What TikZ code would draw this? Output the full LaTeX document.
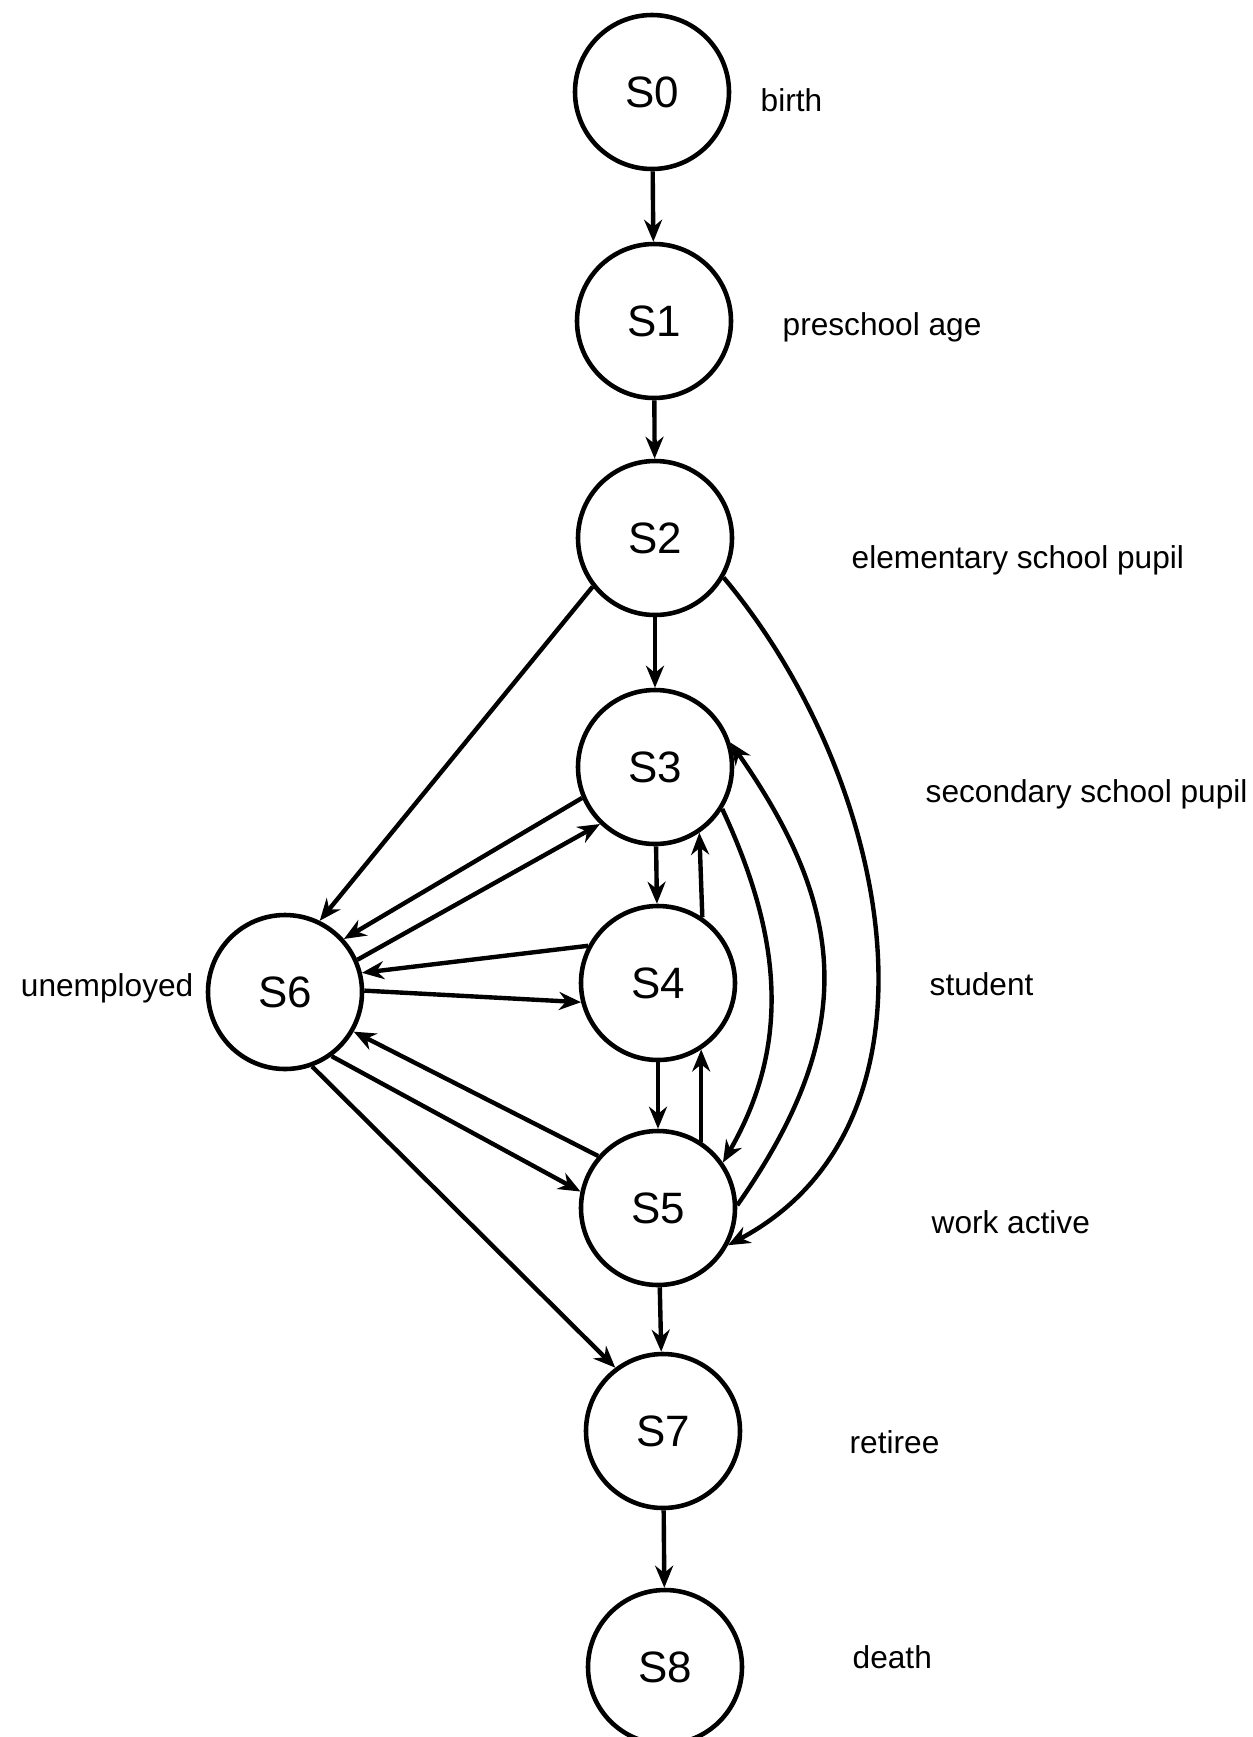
\documentclass[tikz,border=0pt]{standalone}
\usepackage{fontspec}
\setmainfont{Liberation Sans}
\usetikzlibrary{arrows.meta}
\tikzset{
  st/.style={circle,draw=black,line width=1.3pt,minimum size=1.54cm,inner sep=0pt,
    font=\fontsize{12.5}{14}\selectfont},
  lbl/.style={anchor=west,inner sep=0pt,font=\fontsize{9}{11}\selectfont},
  arr/.style={-{Stealth[length=2.2mm,width=1.8mm]},line width=1.25pt},
}

\begin{document}
\begin{tikzpicture}
    \useasboundingbox (0,0) rectangle (12.52,-17.37);

    \node[st] (S0) at (6.52,-0.92) {S0};
    \node[st] (S1) at (6.54,-3.21) {S1};
    \node[st] (S2) at (6.55,-5.38) {S2};
    \node[st] (S3) at (6.55,-7.67) {S3};
    \node[st] (S4) at (6.58,-9.83) {S4};
    \node[st] (S5) at (6.58,-12.08) {S5};
    \node[st] (S6) at (2.85,-9.92) {S6};
    \node[st] (S7) at (6.63,-14.31) {S7};
    \node[st] (S8) at (6.65,-16.67) {S8};

    \node[lbl] (l0) at (7.60,-1.00) {birth};
    \node[lbl] (l1) at (7.82,-3.27) {preschool age};
    \node[lbl] (l2) at (8.51,-5.60) {elementary school pupil};
    \node[lbl] (l3) at (9.25,-7.94) {secondary school pupil};
    \node[lbl] (l4) at (9.29,-9.84) {student};
    \node[lbl] (l5) at (9.31,-12.22) {work active};
    \node[lbl,anchor=east] (l6) at (1.94,-9.88) {unemployed};
    \node[lbl] (l7) at (8.49,-14.42) {retiree};
    \node[lbl] (l8) at (8.52,-16.57) {death};

    \draw[arr] (S0) -- (S1);
    \draw[arr] (S1) -- (S2);
    \draw[arr] (S2) -- (S3);
    \draw[arr] (S3) -- (S4);
    \draw[arr] (S4) -- (S5);
    \draw[arr] (S5) -- (S7);
    \draw[arr] (S7) -- (S8);
    \draw[arr] (S4.56) -- (S3.-56);
    \draw[arr] (S5.57) -- (S4.-57);

    % to and from S6
    \draw[arr] (S2.218) -- (S6.64);
    \draw[arr] (S3.203) -- (S6.42);
    \draw[arr] (S6.24) -- (S3.226);
    \draw[arr] (S4.152) -- (S6.14);
    \draw[arr] (S6.1) -- (S4.194);
    \draw[arr] (S5.139) -- (S6.-30);
    \draw[arr] (S6.-54) -- (S5.168);
    \draw[arr] (S6.-70) -- (S7.127);

    % bends on the right
    \draw[arr] (S3.-32) to[out=-65,in=60] (S5.35);
    \draw[arr] (S5.2) to[out=55,in=-55,looseness=1.15] (S3.18);
    \draw[arr] (S2.-30) to[out=-50,in=28] (S5.-28);
\end{tikzpicture}
\end{document}
